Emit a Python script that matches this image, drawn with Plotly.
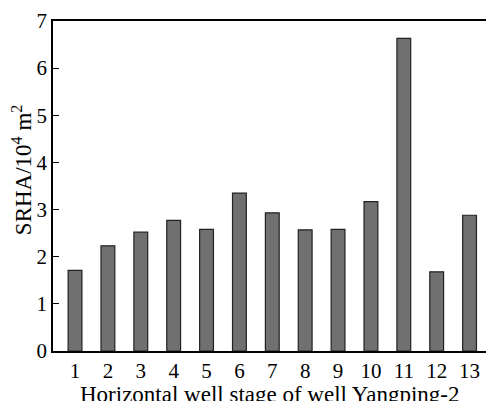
import plotly.graph_objects as go

stages = list(range(1, 14))
srha = [1.71, 2.23, 2.52, 2.77, 2.58, 3.35, 2.93, 2.57, 2.58, 3.17, 6.63, 1.68, 2.88]
y_ticks = [0, 1, 2, 3, 4, 5, 6, 7]

FONT = "Liberation Serif, Times New Roman, serif"

fig = go.Figure()
fig.add_trace(go.Bar(
    x=stages, y=srha, width=0.42,
    marker=dict(color="#707070", line=dict(color="#222222", width=1.2)),
))

fig.update_layout(
    width=486, height=401,
    margin=dict(l=53, r=0, t=21, b=50),
    paper_bgcolor="white", plot_bgcolor="white",
    font=dict(family=FONT, size=21, color="black"),
    showlegend=False,
    xaxis=dict(
        range=[0.33, 13.5], tickmode="array", tickvals=stages,
        ticktext=[str(s) for s in stages],
        showline=True, linecolor="black", linewidth=1.5, mirror=True,
        ticks="", showgrid=False, zeroline=False,
        tickfont=dict(family=FONT, size=21),
    ),
    yaxis=dict(
        range=[0, 7], tickmode="array", tickvals=y_ticks,
        showline=True, linecolor="black", linewidth=1.5,
        ticks="inside", ticklen=6, tickcolor="black", tickwidth=1,
        showgrid=False, zeroline=False,
        tickfont=dict(family=FONT, size=21),
    ),
    annotations=[
        dict(
            text="Horizontal well stage of well Yangping-2",
            xref="paper", yref="paper", x=0.5, y=0, yshift=-29,
            xanchor="center", yanchor="top", showarrow=False,
            font=dict(family=FONT, size=23),
        ),
        dict(
            text="SRHA/10<sup>4</sup> m<sup>2</sup>",
            xref="paper", yref="paper", x=0, y=0.548, xshift=-31,
            xanchor="center", yanchor="middle", textangle=-90, showarrow=False,
            font=dict(family=FONT, size=23),
        ),
    ],
)

fig.write_html("out.html")
